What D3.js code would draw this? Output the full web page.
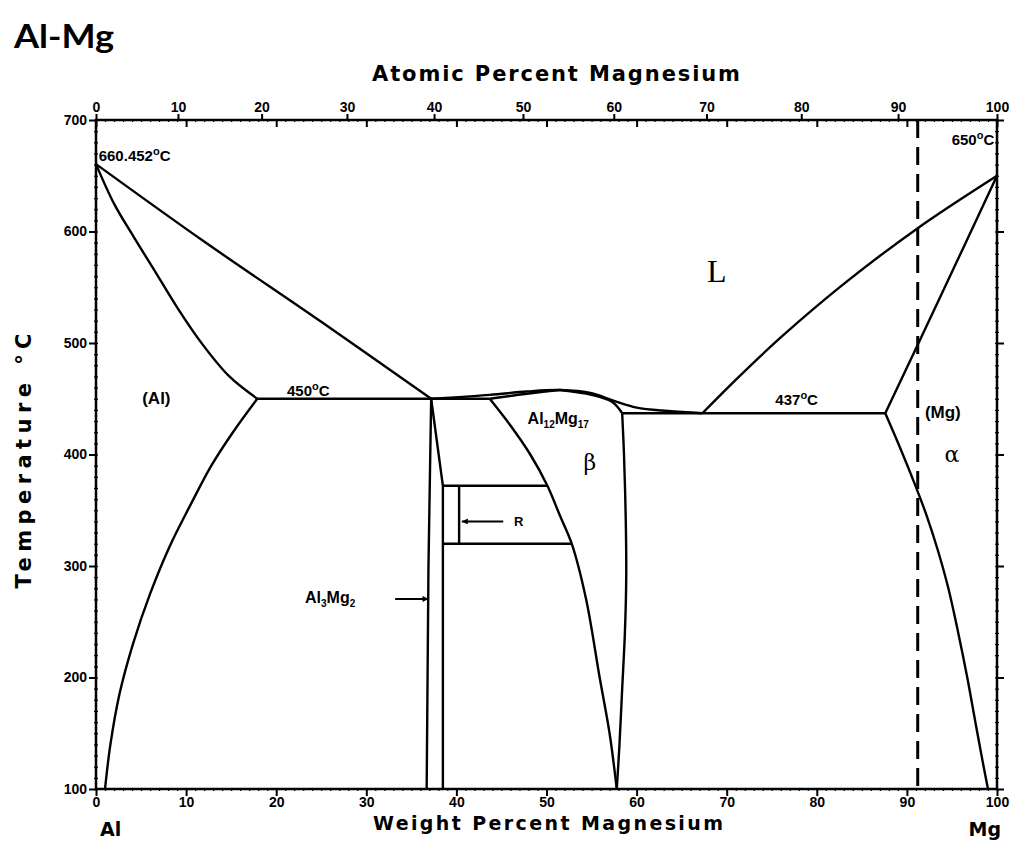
<!DOCTYPE html>
<html>
<head>
<meta charset="utf-8">
<script src="https://cdn.jsdelivr.net/npm/d3@7"></script>
<style>
body { margin: 0; background: #fff; }
text { fill: #000; }
</style>
</head>
<body>
<svg id="chart" width="1030" height="851"></svg>
<script>
// phase boundaries, each point is [wt% Mg, temperature C]
var alLiquidus = [[0, 660.45], [12, 591], [25, 519], [37.2, 450]];
var alSolidus = [[0, 660.45], [2, 625], [4.2, 595], [6.5, 565], [9, 532], [11.8, 499], [14.8, 470], [17.9, 450]];
var alSolvus = [[17.9, 450], [15.2, 420], [12.8, 390], [10.5, 355], [8.2, 318], [6.0, 275], [4.1, 230], [2.6, 185], [1.6, 140], [1.0, 100]];
var eutectic450 = [[17.9, 450], [43.7, 450]];
var betaLeft = [[37.2, 450], [36.9, 300], [36.7, 100]];
var betaRight = [[37.2, 450], [38.5, 372], [38.5, 100]];
var rTop = [[38.5, 372], [50.1, 372]];
var rBottom = [[38.5, 320], [52.8, 320]];
var rRight = [[40.3, 372], [40.3, 320]];
var midLiquidus = [[37.2, 450], [43.7, 453.5], [47.8, 456.5], [51.5, 457.8], [55, 455], [57.5, 448], [60, 442], [63.5, 439], [67.3, 437]];
var gammaSolidusL = [[43.7, 450], [47.8, 454.5], [51.5, 457.8]];
var gammaSolidusR = [[51.5, 457.8], [55, 453.5], [57.3, 447], [58.4, 437]];
var gammaLeft = [[43.7, 450], [46.0, 426], [48.2, 400], [50.1, 372], [51.5, 345], [52.8, 320], [54.4, 270], [55.9, 200], [57.0, 150], [57.8, 100]];
var gammaRight = [[58.4, 437], [58.6, 400], [58.8, 340], [58.85, 290], [58.7, 240], [58.4, 190], [58.1, 140], [57.8, 100]];
var eutectic437 = [[58.4, 437], [87.6, 437]];
var mgLiquidus = [[100, 650], [91.2, 603], [83, 553], [76, 505], [71, 467], [67.3, 437]];
var mgSolidus = [[100, 650], [93.8, 543], [87.6, 437]];
var mgSolvus = [[87.6, 437], [89.3, 405], [90.8, 375], [92.2, 345], [93.4, 315], [94.6, 280], [95.7, 240], [96.7, 200], [97.6, 160], [98.4, 125], [99.0, 100]];
var dashedLine = [[91.2, 700], [91.2, 100]];

var wtTicks = d3.range(0, 101, 10);
var atTicks = d3.range(0, 101, 10);
var tempTicks = d3.range(100, 701, 100);

var svg = d3.select("#chart");

var x = d3.scaleLinear().domain([0, 100]).range([96, 997]);
var y = d3.scaleLinear().domain([100, 700]).range([789, 120]);

// atomic % -> weight % Mg
function atToWt(a) {
    return 100 * a * 24.305 / (a * 24.305 + (100 - a) * 26.982);
}

var curve = d3.line()
    .x(function(d) { return x(d[0]); })
    .y(function(d) { return y(d[1]); })
    .curve(d3.curveCatmullRom.alpha(0.5));

var straight = d3.line()
    .x(function(d) { return x(d[0]); })
    .y(function(d) { return y(d[1]); });

// axes
function styleAxis(g, w) {
    g.select(".domain").remove();
    g.selectAll("line").attr("stroke", "#000").attr("stroke-width", w);
    g.selectAll("text")
        .attr("font-family", "Liberation Sans, Arial, sans-serif")
        .attr("font-weight", "bold")
        .attr("font-size", 14);
}

// bottom
svg.append("g")
    .attr("transform", "translate(0," + y(100) + ")")
    .call(d3.axisBottom(x).tickValues(d3.range(0, 101, 1)).tickSize(2).tickFormat(""))
    .call(styleAxis, 1.2);
svg.append("g")
    .attr("transform", "translate(0," + y(100) + ")")
    .call(d3.axisBottom(x).tickValues(wtTicks).tickSize(7).tickPadding(1))
    .call(styleAxis, 2);

// top: weight % ticks pointing in, atomic % ticks pointing out
svg.append("g")
    .attr("transform", "translate(0," + y(700) + ")")
    .call(d3.axisBottom(x).tickValues(d3.range(0, 101, 1)).tickSize(2).tickFormat(""))
    .call(styleAxis, 1.2);
svg.append("g")
    .attr("transform", "translate(0," + y(700) + ")")
    .call(d3.axisBottom(x).tickValues(wtTicks).tickSize(7).tickFormat(""))
    .call(styleAxis, 2);
svg.append("g")
    .attr("transform", "translate(0," + y(700) + ")")
    .call(d3.axisTop(x).tickValues(atTicks.map(atToWt)).tickSize(6).tickPadding(2)
        .tickFormat(function(d, i) { return atTicks[i]; }))
    .call(styleAxis, 2);

// left
svg.append("g")
    .attr("transform", "translate(" + x(0) + ",0)")
    .call(d3.axisLeft(y).tickValues(d3.range(100, 701, 10)).tickSize(3).tickFormat(""))
    .call(styleAxis, 1.2)
    .selectAll("line").attr("x2", 2).attr("x1", -2);
svg.append("g")
    .attr("transform", "translate(" + x(0) + ",0)")
    .call(d3.axisLeft(y).tickValues(tempTicks).tickSize(7).tickPadding(2))
    .call(styleAxis, 2);

// right
svg.append("g")
    .attr("transform", "translate(" + x(100) + ",0)")
    .call(d3.axisRight(y).tickValues(d3.range(100, 701, 10)).tickSize(3).tickFormat(""))
    .call(styleAxis, 1.2)
    .selectAll("line").attr("x2", 2).attr("x1", -2);
svg.append("g")
    .attr("transform", "translate(" + x(100) + ",0)")
    .call(d3.axisRight(y).tickValues(tempTicks).tickSize(7).tickFormat(""))
    .call(styleAxis, 2);

// frame
svg.append("rect")
    .attr("x", x(0)).attr("y", y(700))
    .attr("width", x(100) - x(0)).attr("height", y(100) - y(700))
    .attr("fill", "none").attr("stroke", "#000").attr("stroke-width", 2.5);

// boundaries
var curved = [alLiquidus, alSolidus, alSolvus, midLiquidus, gammaSolidusL, gammaSolidusR,
    gammaLeft, gammaRight, mgLiquidus, mgSolidus, mgSolvus];
var flat = [eutectic450, betaLeft, betaRight, rTop, rBottom, rRight, eutectic437];

svg.append("g").selectAll("path")
    .data(curved)
    .enter().append("path")
    .attr("d", curve)
    .attr("fill", "none").attr("stroke", "#000").attr("stroke-width", 2.4)
    .attr("stroke-linejoin", "round");

svg.append("g").selectAll("path")
    .data(flat)
    .enter().append("path")
    .attr("d", straight)
    .attr("fill", "none").attr("stroke", "#000").attr("stroke-width", 2.4);

svg.append("path")
    .attr("d", straight(dashedLine))
    .attr("fill", "none").attr("stroke", "#000").attr("stroke-width", 3)
    .attr("stroke-dasharray", "18,9");

// arrows
svg.append("defs").append("marker")
    .attr("id", "arr")
    .attr("viewBox", "0 0 10 10")
    .attr("refX", 10).attr("refY", 5)
    .attr("markerWidth", 9).attr("markerHeight", 6)
    .attr("markerUnits", "userSpaceOnUse")
    .attr("orient", "auto")
    .append("path").attr("d", "M0,0L10,5L0,10z").attr("fill", "#000");

svg.append("path")
    .attr("d", straight([[45.2, 340], [40.6, 340]]))
    .attr("stroke", "#000").attr("stroke-width", 2).attr("marker-end", "url(#arr)");
svg.append("path")
    .attr("d", straight([[33.2, 270.5], [36.9, 270.5]]))
    .attr("stroke", "#000").attr("stroke-width", 2).attr("marker-end", "url(#arr)");

// labels
var lab = "Liberation Sans, Arial, sans-serif";

function degLabel(wt, t, value, anchor) {
    var tx = svg.append("text")
        .attr("x", x(wt)).attr("y", y(t))
        .attr("text-anchor", anchor || "start")
        .attr("font-family", lab).attr("font-weight", "bold").attr("font-size", 15);
    tx.append("tspan").text(value);
    tx.append("tspan").attr("font-size", 11).attr("dy", -6).text("o");
    tx.append("tspan").attr("dy", 6).text("C");
}
degLabel(0.3, 663, "660.452");
degLabel(99.7, 678, "650", "end");
degLabel(21.2, 452.5, "450");
degLabel(75.4, 444, "437");

svg.append("text")
    .attr("x", x(6.7)).attr("y", y(445)).attr("text-anchor", "middle")
    .attr("font-family", lab).attr("font-weight", "bold").attr("font-size", 17)
    .text("(Al)");

svg.append("text")
    .attr("x", x(92.0)).attr("y", y(433))
    .attr("font-family", lab).attr("font-weight", "bold").attr("font-size", 17)
    .text("(Mg)");

svg.append("text")
    .attr("x", x(68.9)).attr("y", y(555)).attr("text-anchor", "middle")
    .attr("font-family", "Liberation Serif, serif").attr("font-size", 32)
    .text("L");

svg.append("text")
    .attr("x", x(54.8)).attr("y", y(386)).attr("text-anchor", "middle")
    .attr("font-family", "DejaVu Serif, serif").attr("font-size", 22)
    .text("β");

svg.append("text")
    .attr("x", x(95.0)).attr("y", y(393)).attr("text-anchor", "middle")
    .attr("font-family", "DejaVu Serif, serif").attr("font-size", 22)
    .text("α");

svg.append("text")
    .attr("x", x(46.4)).attr("y", y(336))
    .attr("font-family", lab).attr("font-weight", "bold").attr("font-size", 13)
    .text("R");

function compound(wt, t, parts) {
    var tx = svg.append("text")
        .attr("x", x(wt)).attr("y", y(t))
        .attr("font-family", lab).attr("font-weight", "bold").attr("font-size", 16);
    parts.forEach(function(p) {
        if (p.sub) {
            tx.append("tspan").attr("font-size", 10).attr("dy", 4).text(p.s);
        } else {
            tx.append("tspan").attr("dy", p.back ? -4 : 0).text(p.s);
        }
    });
}
compound(47.9, 427, [{s: "Al"}, {s: "12", sub: true}, {s: "Mg", back: true}, {s: "17", sub: true}]);
compound(23.2, 267, [{s: "Al"}, {s: "3", sub: true}, {s: "Mg", back: true}, {s: "2", sub: true}]);

// titles
svg.append("text")
    .attr("x", 14).attr("y", 48)
    .attr("font-family", "Lato, Open Sans, sans-serif").attr("font-weight", "bold").attr("font-size", 33)
    .attr("textLength", 100).attr("lengthAdjust", "spacingAndGlyphs")
    .text("Al-Mg");

var axf = "DejaVu Sans, sans-serif";
svg.append("text")
    .attr("x", 372).attr("y", 81)
    .attr("font-family", axf).attr("font-weight", "bold").attr("font-size", 21)
    .attr("textLength", 368).attr("lengthAdjust", "spacing")
    .text("Atomic Percent Magnesium");

svg.append("text")
    .attr("x", 373).attr("y", 830)
    .attr("font-family", axf).attr("font-weight", "bold").attr("font-size", 19)
    .attr("textLength", 350).attr("lengthAdjust", "spacing")
    .text("Weight Percent Magnesium");

svg.append("text")
    .attr("x", 100).attr("y", 836)
    .attr("font-family", axf).attr("font-weight", "bold").attr("font-size", 19)
    .text("Al");

svg.append("text")
    .attr("x", 1001).attr("y", 836).attr("text-anchor", "end")
    .attr("font-family", axf).attr("font-weight", "bold").attr("font-size", 19)
    .text("Mg");

svg.append("text")
    .attr("transform", "translate(31,461)rotate(-90)")
    .attr("text-anchor", "middle")
    .attr("font-family", axf).attr("font-weight", "bold").attr("font-size", 21)
    .attr("textLength", 255).attr("lengthAdjust", "spacing")
    .text("Temperature °C");
</script>
</body>
</html>
